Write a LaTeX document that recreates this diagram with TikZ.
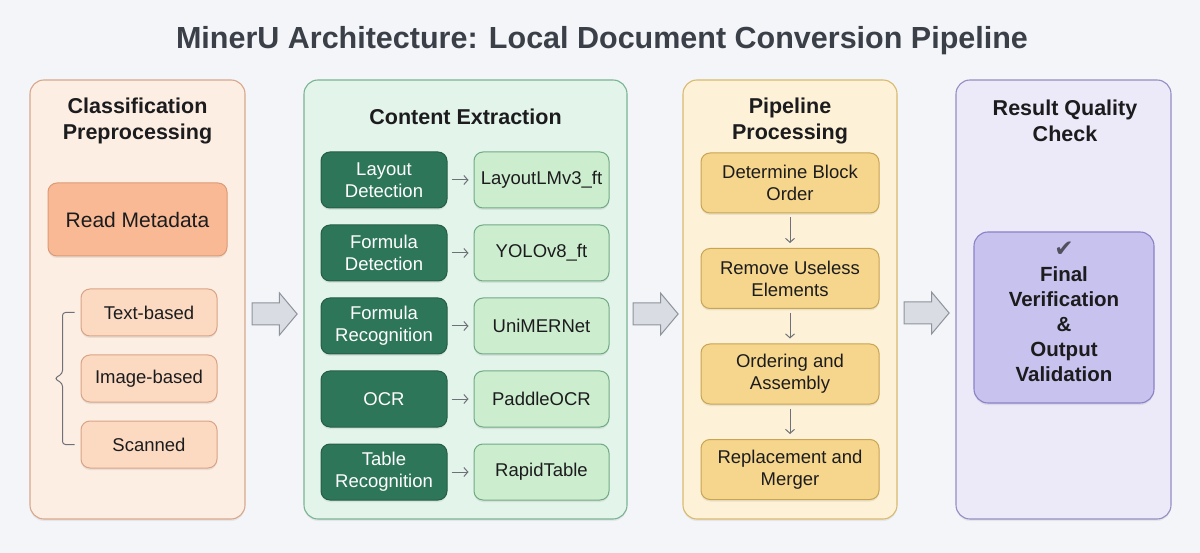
\documentclass[tikz,border=0pt]{standalone}
\usepackage{fontspec}
\setmainfont{Liberation Sans}
\newfontfamily\symfont{DejaVu Sans}
\usetikzlibrary{positioning,shapes.arrows,shadows,arrows.meta}
\definecolor{bgcol}{HTML}{F3F5F9}
\definecolor{titlecol}{HTML}{3A3F48}
\definecolor{inkcol}{HTML}{1C1C1E}
\definecolor{peachfill}{HTML}{FDEEE3}
\definecolor{peachline}{HTML}{D8A88C}
\definecolor{salmonfill}{HTML}{F8B994}
\definecolor{salmonline}{HTML}{DA9B76}
\definecolor{apricotfill}{HTML}{FCDAC2}
\definecolor{apricotline}{HTML}{D9A385}
\definecolor{mintfill}{HTML}{E3F4EA}
\definecolor{mintline}{HTML}{7AB492}
\definecolor{pinefill}{HTML}{2E7659}
\definecolor{pineline}{HTML}{245E47}
\definecolor{leaffill}{HTML}{CDEDCF}
\definecolor{leafline}{HTML}{70AA84}
\definecolor{creamfill}{HTML}{FDF2D7}
\definecolor{creamline}{HTML}{D9BA6E}
\definecolor{goldfill}{HTML}{F6D68C}
\definecolor{goldline}{HTML}{C9A452}
\definecolor{lilacfill}{HTML}{ECE9F8}
\definecolor{lilacline}{HTML}{948EC2}
\definecolor{lavfill}{HTML}{C8C2EE}
\definecolor{lavline}{HTML}{8A82C6}
\definecolor{arrowfill}{HTML}{D9DCE2}
\definecolor{arrowline}{HTML}{8E939B}
\definecolor{flowcol}{HTML}{6E7178}
\definecolor{checkcol}{HTML}{50505E}
\newcommand\titlefont{\fontsize{30.5}{36}\selectfont\bfseries}
\newcommand\headfont{\fontsize{21.5}{26}\selectfont\bfseries}
\newcommand\boxfont{\fontsize{18.5}{22}\selectfont}
\tikzset{
  panel/.style={draw, rounded corners=14pt, line width=1.1pt, minimum width=#1, minimum height=439pt,
    drop shadow={opacity=0.12, shadow xshift=0pt, shadow yshift=-2pt}},
  head/.style={font=\headfont, align=center, text=inkcol},
  card/.style={draw, rounded corners=9pt, line width=1pt, font=\boxfont, align=center, text=inkcol,
    inner sep=2pt, drop shadow={opacity=0.15, shadow xshift=0pt, shadow yshift=-2pt}},
  salmon/.style={card, fill=salmonfill, draw=salmonline, minimum width=179pt, minimum height=73pt,
    font=\fontsize{21}{25}\selectfont},
  apricot/.style={card, fill=apricotfill, draw=apricotline, minimum width=136pt, minimum height=47pt},
  pine/.style={card, fill=pinefill, draw=pineline, text=white, minimum width=126pt, minimum height=56pt},
  leaf/.style={card, fill=leaffill, draw=leafline, minimum width=135pt, minimum height=56pt},
  gold/.style={card, fill=goldfill, draw=goldline, minimum width=178pt, minimum height=60pt},
  lav/.style={card, fill=lavfill, draw=lavline, line width=1.1pt, rounded corners=14pt,
    minimum width=180pt, minimum height=171pt},
  blockarrow/.style={single arrow, draw=arrowline, fill=arrowfill, line width=1pt,
    single arrow head extend=10pt, single arrow tip angle=100, minimum height=45pt,
    inner xsep=0pt, inner ysep=10.5pt},
  flowarrow/.style={->, draw=flowcol, line width=1pt, shorten <=4pt, shorten >=5pt},
  bracket/.style={draw=flowcol, line width=1pt, rounded corners=3pt}
}
\begin{document}
\begin{tikzpicture}[x=1pt,y=-1pt,>={Straight Barb[length=4pt,width=9pt]}]
 \fill[bgcol] (0,0) rectangle (1200,553);
 \useasboundingbox (0,0) rectangle (1200,553);
 \node[font=\titlefont, text=titlecol] (title) at (602,41) {MinerU Architecture: Local Document Conversion Pipeline};
 % the four stages
 \node[panel=215pt, fill=peachfill, draw=peachline] (classify) at (137.5,299.5) {};
 \node[panel=323pt, fill=mintfill, draw=mintline] (extract) at (465.5,299.5) {};
 \node[panel=214pt, fill=creamfill, draw=creamline] (process) at (790,299.5) {};
 \node[panel=215pt, fill=lilacfill, draw=lilacline] (check) at (1063.5,299.5) {};
 \node[head] (classifyhead) at (137.5,121) {Classification\\Preprocessing};
 \node[head] (extracthead) at (465.5,117) {Content Extraction};
 \node[head] (processhead) at (790,121) {Pipeline\\Processing};
 \node[head] (checkhead) at (1065,121) {Result Quality\\Check};
 % stage 1
 \node[salmon] (meta) at (137.5,219.5) {Read Metadata};
 \node[apricot] (textbased) at (149,312.5) {Text-based};
 \node[apricot, below=18pt of textbased] (imagebased) {Image-based};
 \node[apricot, below=18pt of imagebased] (scanned) {Scanned};
 \draw[bracket] ([xshift=-6pt]textbased.west) -| ([xshift=-18pt,yshift=5pt]imagebased.west)
   -- ([xshift=-26pt]imagebased.west) -- ([xshift=-18pt,yshift=-5pt]imagebased.west) |- ([xshift=-6pt]scanned.west);
 % stage 2
 \node[pine] (layout) at (384,180) {Layout\\Detection};
 \node[pine, below=16pt of layout] (formdet) {Formula\\Detection};
 \node[pine, below=16pt of formdet] (formrec) {Formula\\Recognition};
 \node[pine, below=16pt of formrec] (ocr) {OCR};
 \node[pine, below=16pt of ocr] (tablerec) {Table\\Recognition};
 \node[leaf, right=26pt of layout] (layoutlm) {LayoutLMv3\_ft};
 \node[leaf, right=26pt of formdet] (yolo) {YOLOv8\_ft};
 \node[leaf, right=26pt of formrec] (unimer) {UniMERNet};
 \node[leaf, right=26pt of ocr] (paddle) {PaddleOCR};
 \node[leaf, right=26pt of tablerec] (rapid) {RapidTable};
 \foreach \a/\b in {layout/layoutlm,formdet/yolo,formrec/unimer,ocr/paddle,tablerec/rapid}
   \draw[flowarrow] (\a) -- (\b);
 % stage 3
 \node[gold] (blockorder) at (790,183) {Determine Block\\Order};
 \node[gold, below=34.5pt of blockorder] (useless) {Remove Useless\\Elements};
 \node[gold, below=34.5pt of useless] (assembly) {Ordering and\\Assembly};
 \node[gold, below=34.5pt of assembly] (merger) {Replacement and\\Merger};
 \foreach \a/\b in {blockorder/useless,useless/assembly,assembly/merger}
   \draw[flowarrow] (\a) -- (\b);
 % stage 4
 \node[lav] (final) at (1064,317.5) {};
 \node[font=\fontsize{20.5}{25}\selectfont\bfseries, align=center, text=inkcol] (finaltext) at (1064,312)
   {{\symfont\fontsize{23}{22}\selectfont\color{checkcol}✔}\\Final\\Verification\\\&\\Output\\Validation};
 % between stages
 \node[blockarrow] (step1) at (270,314) {};
 \node[blockarrow] (step2) at (651,314) {};
 \node[blockarrow] (step3) at (922,313) {};
\end{tikzpicture}
\end{document}
